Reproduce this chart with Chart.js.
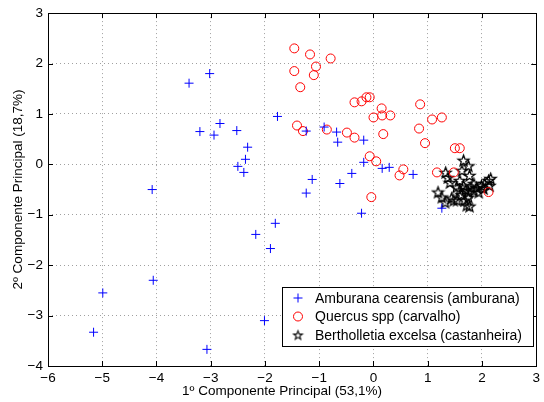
<!DOCTYPE html>
<html>
<head>
<meta charset="utf-8">
<script src="https://cdn.jsdelivr.net/npm/chart.js@4"></script>
<style>
  html, body { margin: 0; padding: 0; background: #fff; }
  #wrap { width: 544px; height: 402px; }
</style>
</head>
<body>
<div id="wrap"><canvas id="pca"></canvas></div>
<script>
// values
const ambX = [-3.40, -3.02, -3.20, -2.94, -2.83, -2.52, -2.32, -2.36, -2.50, -2.39, -1.77, -1.24, -0.91, -0.68, -0.66, -0.18, -0.18, -0.40, -1.13, -0.62, -1.24, -0.22, -1.81, -2.17, -1.90, 0.16, 0.29, 0.73, 1.26, -4.08, -4.06, -4.99, -5.16, -3.07, -2.01];
const ambY = [1.61, 1.80, 0.65, 0.58, 0.81, 0.67, 0.34, 0.10, -0.04, -0.16, 0.95, 0.66, 0.74, 0.64, 0.44, 0.48, 0.04, -0.18, -0.30, -0.38, -0.57, -0.97, -1.17, -1.39, -1.67, -0.08, -0.06, -0.20, -0.87, -0.50, -2.30, -2.55, -3.33, -3.67, -3.10];

const quercX = [-1.46, -1.17, -0.79, -1.06, -1.46, -1.10, -1.35, -0.35, -0.22, -0.13, -0.07, -1.41, -1.30, -0.86, -0.49, -0.35, 0.15, 0.00, 0.16, 0.31, 0.18, -0.07, 0.05, 0.55, 0.48, 0.86, 1.08, 1.26, 0.84, 0.95, 1.50, 1.59, 1.17, 1.48, -0.04, 2.12];
const quercY = [2.30, 2.18, 2.10, 1.94, 1.85, 1.77, 1.53, 1.23, 1.25, 1.33, 1.33, 0.77, 0.66, 0.69, 0.63, 0.53, 1.11, 0.93, 0.97, 0.97, 0.60, 0.16, 0.06, -0.10, -0.22, 1.19, 0.89, 0.93, 0.71, 0.42, 0.32, 0.32, -0.16, -0.16, -0.65, -0.55];

const bertX = [1.66, 1.75, 1.33, 1.37, 1.63, 1.77, 1.41, 1.59, 1.66, 1.85, 1.90, 1.99, 2.12, 2.14, 1.19, 1.26, 1.32, 1.44, 1.54, 1.68, 1.75, 1.72, 1.77, 1.75, 1.59, 1.94, 2.03, 2.16, 1.48, 1.70, 1.80, 1.62, 1.85, 1.53, 2.05];
const bertY = [0.08, -0.03, -0.16, -0.26, -0.12, -0.22, -0.36, -0.32, -0.42, -0.38, -0.46, -0.42, -0.32, -0.42, -0.55, -0.65, -0.75, -0.67, -0.71, -0.71, -0.65, -0.81, -0.83, -0.55, -0.51, -0.55, -0.48, -0.28, -0.71, -0.50, -0.45, -0.60, -0.52, -0.45, -0.38];

const seriesNames = ['Amburana cearensis (amburana)', 'Quercus spp (carvalho)', 'Bertholletia excelsa (castanheira)'];
const xTitle = '1º Componente Principal (53,1%)';
const yTitle = '2º Componente Principal (18,7%)';

const toPts = (xs, ys) => xs.map((x, i) => ({x: x, y: ys[i]}));
const minus = v => String(v).replace('-', '\u2212');
const FONT = '"Liberation Sans", Arial, sans-serif';

// pentagram marker like matlab 'p'
function makeStar(rOut, rIn, lw){
    const size = Math.ceil(rOut * 2 + 3);
    const c = document.createElement('canvas');
    c.width = size; c.height = size;
    const g = c.getContext('2d');
    const cx = size / 2, cy = size / 2 + rOut * 0.1;
    g.strokeStyle = '#000';
    g.lineWidth = lw;
    g.beginPath();
    for(let i = 0; i < 10; i++){
        const r = i % 2 === 0 ? rOut : rIn;
        const a = -Math.PI / 2 + i * Math.PI / 5;
        const px = cx + r * Math.cos(a), py = cy + r * Math.sin(a);
        if(i === 0) g.moveTo(px, py); else g.lineTo(px, py);
    }
    g.closePath();
    g.stroke();
    return c;
}
const starImg = makeStar(5.8, 2.4, 1.3);
const starLegend = makeStar(4.6, 1.9, 1.1);

Chart.defaults.font.family = FONT;
Chart.defaults.font.size = 13.5;
Chart.defaults.color = '#000';

const frame = {
    id: 'frame',
    afterDraw(chart){
        const ctx = chart.ctx;
        const a = chart.chartArea;
        const sx = chart.scales.x, sy = chart.scales.y;
        ctx.save();
        ctx.strokeStyle = '#000';
        ctx.lineWidth = 1;
        ctx.strokeRect(Math.round(a.left) + 0.5, Math.round(a.top) + 0.5, Math.round(a.right - a.left), Math.round(a.bottom - a.top));
        ctx.beginPath();
        for(let v = -6; v <= 3; v++){
            const px = Math.round(sx.getPixelForValue(v)) + 0.5;
            ctx.moveTo(px, a.top); ctx.lineTo(px, a.top + 5);
            ctx.moveTo(px, a.bottom); ctx.lineTo(px, a.bottom - 5);
        }
        for(let v = -4; v <= 3; v++){
            const py = Math.round(sy.getPixelForValue(v)) + 0.5;
            ctx.moveTo(a.left, py); ctx.lineTo(a.left + 5, py);
            ctx.moveTo(a.right, py); ctx.lineTo(a.right - 5, py);
        }
        ctx.stroke();

        // axis titles
        ctx.fillStyle = '#000';
        ctx.font = '13.5px ' + FONT;
        ctx.textAlign = 'center';
        ctx.textBaseline = 'alphabetic';
        ctx.fillText(xTitle, 282, 395);
        ctx.translate(22, (a.top + a.bottom) / 2);
        ctx.rotate(-Math.PI / 2);
        ctx.fillText(yTitle, 0, 0);
        ctx.restore();

        // legend box
        ctx.save();
        ctx.fillStyle = '#fff';
        ctx.fillRect(282, 287, 251, 59);
        ctx.strokeStyle = '#000';
        ctx.lineWidth = 1;
        ctx.strokeRect(282.5, 287.5, 251, 59);
        const rows = [298, 316.5, 335];
        ctx.font = '14px ' + FONT;
        ctx.textAlign = 'left';
        ctx.textBaseline = 'middle';
        chart.data.datasets.forEach((ds, i) => {
            ctx.strokeStyle = ds.borderColor;
            ctx.fillStyle = 'rgba(0,0,0,0)';
            ctx.lineWidth = 1;
            Chart.helpers.drawPoint(ctx, {
                pointStyle: ds.pointStyle === starImg ? starLegend : ds.pointStyle,
                radius: ds.pointRadius,
                borderWidth: 1,
                rotation: 0
            }, 298, rows[i]);
            ctx.fillStyle = '#000';
            ctx.fillText(ds.label, 315, rows[i] + 1);
        });
        ctx.restore();
    }
};

new Chart(document.getElementById('pca'), {
    type: 'scatter',
    data: {
        datasets: [
            {label: seriesNames[0], data: toPts(ambX, ambY), pointStyle: 'cross', pointRadius: 4.5, borderColor: '#0000ff', borderWidth: 1, backgroundColor: 'rgba(0,0,0,0)'},
            {label: seriesNames[1], data: toPts(quercX, quercY), pointStyle: 'circle', pointRadius: 4.5, borderColor: '#ff0000', borderWidth: 1, backgroundColor: 'rgba(0,0,0,0)'},
            {label: seriesNames[2], data: toPts(bertX, bertY), pointStyle: starImg, pointRadius: 5, borderColor: '#000', borderWidth: 1, backgroundColor: 'rgba(0,0,0,0)'}
        ]
    },
    options: {
        responsive: true,
        maintainAspectRatio: false,
        animation: false,
        layout: {padding: {top: 13, right: 4, left: 0, bottom: 0}},
        plugins: {legend: {display: false}, tooltip: {enabled: false}},
        scales: {
            x: {
                type: 'linear', min: -6, max: 3,
                afterFit(s){ s.height = 36; },
                ticks: {stepSize: 1, padding: 4, callback: v => minus(v)},
                grid: {color: '#a0a0a0', drawTicks: false},
                border: {display: false, dash: [1, 3]}
            },
            y: {
                type: 'linear', min: -4, max: 3,
                afterFit(s){ s.width = 48; },
                ticks: {stepSize: 1, padding: 5, callback: v => minus(v)},
                grid: {color: '#a0a0a0', drawTicks: false},
                border: {display: false, dash: [1, 3]}
            }
        }
    },
    plugins: [frame]
});
</script>
</body>
</html>
